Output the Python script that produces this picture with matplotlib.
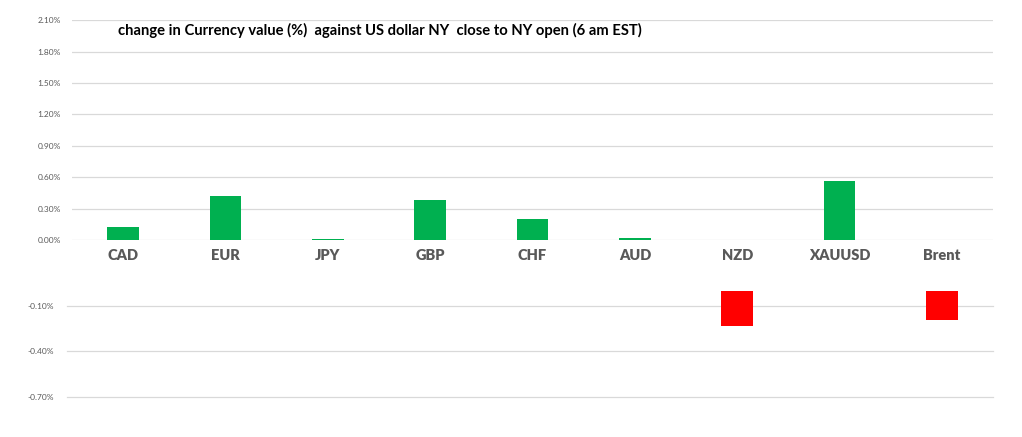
import matplotlib
matplotlib.use("Agg")
import matplotlib.pyplot as plt
import numpy as np

# data (%)
categories = ["CAD", "EUR", "JPY", "GBP", "CHF", "AUD", "NZD", "XAUUSD", "Brent"]
changes = [0.124, 0.42, 0.014, 0.38, 0.20, 0.02, -0.23, 0.563, -0.195]
top_ticks = [0.0, 0.3, 0.6, 0.9, 1.2, 1.5, 1.8, 2.1]
bottom_ticks = [-0.10, -0.40, -0.70]
title = "change in Currency value (%)  against US dollar NY  close to NY open (6 am EST)"

W, H = 1022, 437
fig = plt.figure(figsize=(W / 100, H / 100), dpi=100)
plt.rcParams['font.family'] = ['Lato', 'DejaVu Sans']

x = np.arange(len(categories))
vals = np.array(changes)
pos = np.where(vals > 0, vals, 0)
neg = np.where(vals < 0, vals, 0)

grid_col = "#d9d9d9"
txt_col = "#595959"

# upper panel: positive moves
ax1 = fig.add_axes([72 / W, 1 - 240 / H, (993 - 72) / W, (240 - 20.3) / H])
ax1.bar(x, pos, width=0.31, color="#00b050", zorder=3)
ax1.set_xlim(-0.5, len(categories) - 0.5)
ax1.set_ylim(0, 2.1)
ax1.set_yticks(top_ticks)
ax1.set_yticklabels(["%.2f%%" % t for t in top_ticks], fontsize=6, color=txt_col)
ax1.set_xticks([])
for t in top_ticks:
    ax1.axhline(t, color=grid_col, lw=0.9, zorder=1)
for s in ax1.spines.values():
    s.set_visible(False)
ax1.tick_params(axis="y", length=0, pad=8)

for i, c in enumerate(categories):
    fig.text((72 + 102.33 * (i + 0.5)) / W, 1 - 256 / H, c, ha="center", va="center",
             fontsize=10.5, fontweight="heavy", color=txt_col)

fig.text(118 / W, 1 - 30 / H, title, ha="left", va="center",
         fontsize=10.6, fontweight="bold", color="black")

# lower panel: negative moves
ax2 = fig.add_axes([72 / W, 1 - 411.8 / H, (993 - 72) / W, (411.8 - 291) / H])
ax2.bar(x, neg, width=0.31, color="#ff0000", zorder=3)
ax2.set_xlim(-0.5, len(categories) - 0.5)
ax2.set_ylim(-0.8, 0)
ax2.set_yticks(bottom_ticks)
ax2.set_yticklabels(["%.2f%%" % t for t in bottom_ticks], fontsize=6, color=txt_col)
ax2.set_xticks([])
for t in bottom_ticks:
    ax2.plot([-0.55, len(categories) - 0.5], [t, t], color=grid_col, lw=0.9,
             zorder=1, clip_on=False)
for s in ax2.spines.values():
    s.set_visible(False)
ax2.tick_params(axis="y", length=0, pad=13)

fig.savefig("out.png", dpi=100)
